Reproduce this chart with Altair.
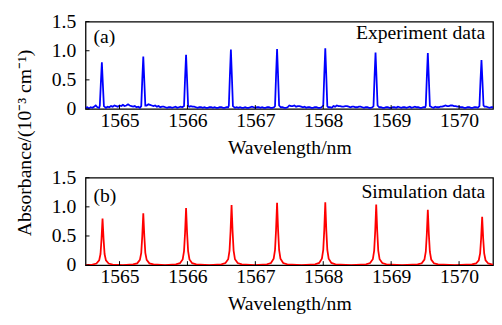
import altair as alt
import pandas as pd

FONT = "Liberation Serif"
FS = 20

x_ticks = [1565, 1566, 1567, 1568, 1569, 1570]
y_ticks = [0, 0.5, 1.0, 1.5]
x_domain = [1564.5, 1570.5]
y_domain = [0, 1.5]

# ---- (a) experiment: noisy baseline sampled every 0.025 nm from 1564.50 ----
exp_base_start = 1564.50
exp_base_step = 0.025
exp_base_abs = [
    0.02, 0.03, 0.01, 0.03, 0.02, 0.04, 0.06, 0.03, 0.02, 0.04, 0.02, 0.03, 0.02, 0.04, 0.03, 0.05, 0.04, 0.06, 0.05, 0.04,
    0.06, 0.05, 0.07, 0.05, 0.06, 0.08, 0.06, 0.05, 0.04, 0.05, 0.03, 0.04, 0.02, 0.03, 0.02, 0.03, 0.06, 0.08, 0.07, 0.06,
    0.05, 0.06, 0.04, 0.05, 0.03, 0.04, 0.04, 0.03, 0.02, 0.03, 0.03, 0.02, 0.03, 0.04, 0.02, 0.03, 0.04, 0.03, 0.04, 0.03,
    0.03, 0.04, 0.05, 0.04, 0.04, 0.03, 0.02, 0.03, 0.03, 0.02, 0.03, 0.02, 0.02, 0.03, 0.03, 0.02, 0.03, 0.02, 0.02, 0.03,
    0.03, 0.02, 0.02, 0.03, 0.03, 0.02, 0.02, 0.03, 0.02, 0.03, 0.02, 0.03, 0.02, 0.02, 0.03, 0.02, 0.02, 0.03, 0.04, 0.03,
    0.02, 0.03, 0.03, 0.02, 0.03, 0.02, 0.02, 0.03, 0.03, 0.02, 0.02, 0.03, 0.03, 0.02, 0.04, 0.03, 0.03, 0.02, 0.02, 0.03,
    0.06, 0.05, 0.05, 0.06, 0.04, 0.05, 0.05, 0.04, 0.03, 0.04, 0.02, 0.03, 0.03, 0.02, 0.02, 0.03, 0.03, 0.02, 0.02, 0.03,
    0.03, 0.02, 0.02, 0.03, 0.03, 0.02, 0.05, 0.04, 0.06, 0.05, 0.05, 0.04, 0.04, 0.05, 0.05, 0.04, 0.03, 0.04, 0.04, 0.03,
    0.03, 0.04, 0.04, 0.03, 0.02, 0.03, 0.03, 0.02, 0.02, 0.03, 0.03, 0.02, 0.02, 0.03, 0.03, 0.02, 0.02, 0.03, 0.03, 0.02,
    0.02, 0.03, 0.03, 0.02, 0.04, 0.03, 0.02, 0.03, 0.03, 0.02, 0.03, 0.04, 0.02, 0.03, 0.04, 0.03, 0.03, 0.02, 0.02, 0.03,
    0.03, 0.02, 0.02, 0.03, 0.03, 0.02, 0.04, 0.03, 0.03, 0.04, 0.04, 0.05, 0.06, 0.05, 0.05, 0.06, 0.06, 0.05, 0.05, 0.04,
    0.04, 0.03, 0.03, 0.02, 0.02, 0.03, 0.03, 0.02, 0.02, 0.03, 0.03, 0.02, 0.02, 0.03, 0.03, 0.04, 0.04, 0.03, 0.02, 0.03,
    0.03,
]
exp_peak_center = [1564.74, 1565.35, 1565.98, 1566.64, 1567.32,
                   1568.03, 1568.77, 1569.54, 1570.33]
exp_peak_offset = [-0.03, -0.015, 0.0, 0.015, 0.03]
exp_peak_abs = [
    [0.06, 0.44, 0.80, 0.42, 0.05],
    [0.05, 0.50, 0.90, 0.48, 0.06],
    [0.05, 0.52, 0.93, 0.50, 0.05],
    [0.06, 0.56, 1.02, 0.55, 0.05],
    [0.05, 0.57, 1.03, 0.56, 0.06],
    [0.06, 0.58, 1.04, 0.56, 0.05],
    [0.05, 0.54, 0.97, 0.52, 0.06],
    [0.06, 0.53, 0.96, 0.52, 0.05],
    [0.05, 0.47, 0.84, 0.46, 0.06],
]

# ---- (b) simulation ----
sim_peak_center = [1564.75, 1565.35, 1565.98, 1566.65, 1567.32,
                   1568.03, 1568.78, 1569.54, 1570.34]
sim_peak_offset = [-0.15, -0.09, -0.05, -0.03, -0.015, 0.0,
                   0.015, 0.03, 0.05, 0.09, 0.15]
sim_peak_abs = [
    [0.010, 0.027, 0.080, 0.19, 0.45, 0.80, 0.45, 0.19, 0.080, 0.027, 0.010],
    [0.012, 0.030, 0.089, 0.21, 0.50, 0.89, 0.50, 0.21, 0.089, 0.030, 0.012],
    [0.013, 0.033, 0.098, 0.24, 0.55, 0.98, 0.55, 0.24, 0.098, 0.033, 0.013],
    [0.013, 0.035, 0.100, 0.25, 0.58, 1.03, 0.58, 0.25, 0.100, 0.035, 0.013],
    [0.014, 0.036, 0.110, 0.26, 0.60, 1.07, 0.60, 0.26, 0.110, 0.036, 0.014],
    [0.014, 0.037, 0.110, 0.26, 0.60, 1.08, 0.60, 0.26, 0.110, 0.037, 0.014],
    [0.014, 0.035, 0.100, 0.25, 0.58, 1.04, 0.58, 0.25, 0.100, 0.035, 0.014],
    [0.012, 0.032, 0.095, 0.23, 0.53, 0.95, 0.53, 0.23, 0.095, 0.032, 0.012],
    [0.011, 0.028, 0.083, 0.20, 0.46, 0.83, 0.46, 0.20, 0.083, 0.028, 0.011],
]
sim_base_wl = [1564.50, 1565.05, 1565.67, 1566.32, 1566.99, 1567.68,
               1568.41, 1569.16, 1569.94, 1570.50]
sim_base_abs = [0, 0, 0, 0, 0, 0, 0, 0, 0, 0]


def build_exp():
    rows = []
    for i, a in enumerate(exp_base_abs):
        wl = exp_base_start + exp_base_step * i
        if min(abs(wl - c) for c in exp_peak_center) > 0.036:
            rows.append((wl, a))
    for c, vals in zip(exp_peak_center, exp_peak_abs):
        for o, a in zip(exp_peak_offset, vals):
            rows.append((c + o, a))
    return pd.DataFrame(rows, columns=["wl", "abs"]).sort_values("wl")


def build_sim():
    rows = list(zip(sim_base_wl, sim_base_abs))
    for c, vals in zip(sim_peak_center, sim_peak_abs):
        for o, a in zip(sim_peak_offset, vals):
            rows.append((c + o, a))
    return pd.DataFrame(rows, columns=["wl", "abs"]).sort_values("wl")


W, H = 415, 89
label_expr = "datum.value == 0 ? '0' : format(datum.value, '.1f')"


def x_enc():
    return alt.X("wl:Q", scale=alt.Scale(domain=x_domain, nice=False, zero=False),
                 title="Wavelength/nm",
                 axis=alt.Axis(values=x_ticks, format="d", ticks=False, grid=False,
                               domain=False, labelPadding=2, titlePadding=7,
                               labelOverlap=False))


def y_enc():
    return alt.Y("abs:Q", scale=alt.Scale(domain=y_domain, nice=False), title=None,
                 axis=alt.Axis(values=y_ticks, labelExpr=label_expr, ticks=False,
                               grid=False, domain=False, labelPadding=10,
                               labelOverlap=False))


def panel(df, color, tag, label, tag_y, label_y):
    line = alt.Chart(df).mark_line(color=color, strokeWidth=1.8, clip=True).encode(
        x=x_enc(), y=y_enc())
    xt = alt.Chart(pd.DataFrame({"wl": x_ticks})).mark_rule(
        color="black", strokeWidth=1).encode(
        x=x_enc(), y=alt.value(H), y2=alt.value(H - 4))
    yt = alt.Chart(pd.DataFrame({"abs": y_ticks})).mark_rule(
        color="black", strokeWidth=1).encode(
        y=y_enc(), x=alt.value(0), x2=alt.value(4))
    tag_t = alt.Chart(pd.DataFrame({"s": [tag]})).mark_text(
        align="left", baseline="middle", font=FONT, fontSize=FS, color="black").encode(
        text="s:N", x=alt.value(8), y=alt.value(tag_y))
    lab_t = alt.Chart(pd.DataFrame({"s": [label]})).mark_text(
        align="right", baseline="middle", font=FONT, fontSize=FS, color="black").encode(
        text="s:N", x=alt.value(W - 8), y=alt.value(label_y))
    return alt.layer(line, xt, yt, tag_t, lab_t).properties(width=W, height=H)


top = panel(build_exp(), "#0000ff", "(a)", "Experiment data", 16, 12)
bottom = panel(build_sim(), "#ff0000", "(b)", "Simulation data", 19, 15)

chart = alt.vconcat(top, bottom, spacing=9).properties(
    title=alt.TitleParams(text="Absorbance/(10⁻³ cm⁻¹)", orient="left", anchor="middle",
                          font=FONT, fontSize=FS, fontWeight="normal", color="black",
                          offset=16, dx=20),
    padding={"left": 7, "top": 0, "right": 0, "bottom": 0},
).configure_view(stroke="black", strokeWidth=1.3).configure_axis(
    labelFont=FONT, labelFontSize=FS, labelColor="black",
    titleFont=FONT, titleFontSize=FS, titleColor="black", titleFontWeight="normal",
)

chart.save("out.html", embed_options={"renderer": "svg", "actions": False})
